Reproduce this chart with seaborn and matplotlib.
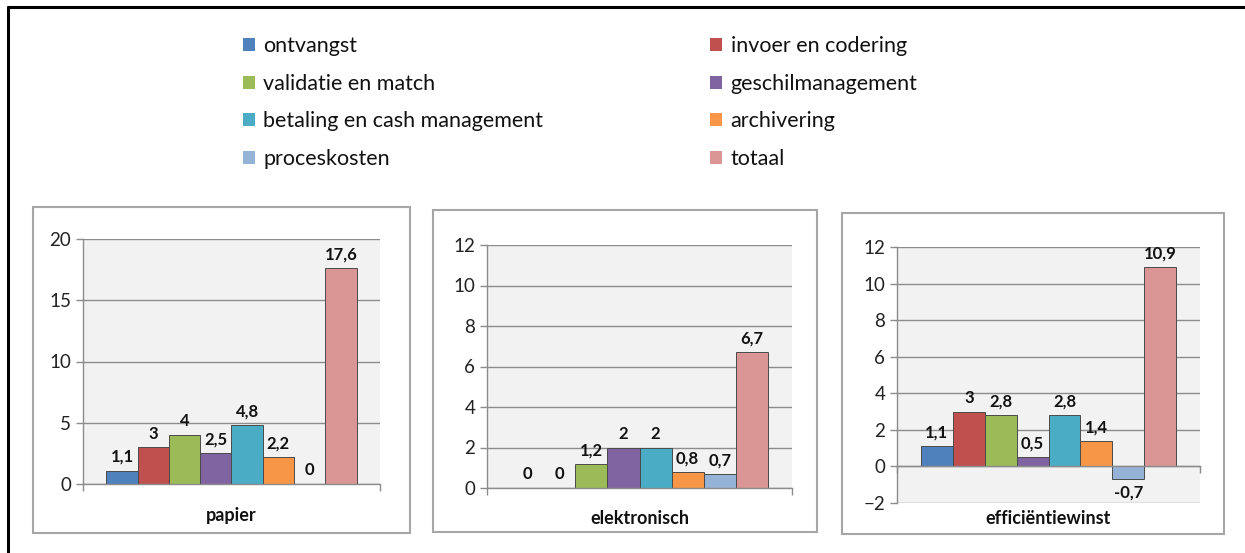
import seaborn as sns
import pandas as pd
import matplotlib.pyplot as plt
from matplotlib.patches import Rectangle, Patch
from matplotlib.lines import Line2D

# kostenposten en waarden per scenario
posten = ["ontvangst", "invoer en codering", "validatie en match", "geschilmanagement",
          "betaling en cash management", "archivering", "proceskosten", "totaal"]
kleuren = ["#4F81BD", "#C0504D", "#9BBB59", "#8064A2",
           "#4BACC6", "#F79646", "#95B3D7", "#D99694"]
scenarios = ["papier", "elektronisch", "efficiëntiewinst"]
papier = [1.1, 3, 4, 2.5, 4.8, 2.2, 0, 17.6]
elektronisch = [0, 0, 1.2, 2, 2, 0.8, 0.7, 6.7]
efficientiewinst = [1.1, 3, 2.8, 0.5, 2.8, 1.4, -0.7, 10.9]
y_limieten = [(0, 20), (0, 12), (-2, 12)]
y_stappen = [5, 2, 2]

sns.set_theme(style="white")
plt.rcParams['font.family'] = ["Lato", "DejaVu Sans"]

rows = []
for sc, waarden in zip(scenarios, [papier, elektronisch, efficientiewinst]):
    for p, w in zip(posten, waarden):
        rows.append({"scenario": sc, "post": p, "waarde": w})
df = pd.DataFrame(rows)

W, H = 1245, 553
fig = plt.figure(figsize=(W / 100, H / 100), dpi=100)

# pixel boxes: (links, boven, rechts, onder)
as_boxen = [(83, 239, 380, 484), (487, 245, 792, 488), (897, 247, 1200, 503)]
kaders = [(33, 207, 410, 533), (433, 210, 817, 532), (842, 213, 1224, 534)]
label_y = [515, 518, 519]

def fbox(l, t, r, b):
    return [l / W, 1 - b / H, (r - l) / W, (b - t) / H]

for i, sc in enumerate(scenarios):
    l, t, r, b = kaders[i]
    fig.add_artist(Rectangle((l / W, 1 - b / H), (r - l) / W, (b - t) / H,
                             transform=fig.transFigure, fill=False,
                             edgecolor="#A6A6A6", lw=1.5))
    ax = fig.add_axes(fbox(*as_boxen[i]))
    sub = df[df["scenario"] == sc]
    sns.barplot(data=sub, x="scenario", y="waarde", hue="post", hue_order=posten,
                palette=kleuren, ax=ax, legend=False, width=0.8,
                edgecolor="#4A4A4A", linewidth=0.7, saturation=1)
    ax.set_facecolor("#F2F2F2")
    lo, hi = y_limieten[i]
    ax.set_ylim(lo, hi)
    ax.set_yticks(range(lo, hi + 1, y_stappen[i]))
    ax.set_xlim(-0.475, 0.475)
    ax.yaxis.grid(True, color="#8C8C8C", lw=1)
    ax.set_axisbelow(True)
    for s in ["top", "right"]:
        ax.spines[s].set_visible(False)
    for s in ["left", "bottom"]:
        ax.spines[s].set_color("#8C8C8C")
        ax.spines[s].set_linewidth(1)
    ax.spines["bottom"].set_position(("data", 0))
    ax.set_xticks([-0.475, 0.475], labels=["", ""])
    ax.tick_params(axis="both", direction="out", length=5, color="#8C8C8C",
                   width=1, labelsize=13.5, labelcolor="#222222", left=True, bottom=True)
    ax.set_ylabel("")
    ax.set_xlabel(sc, fontsize=13, fontweight="bold", color="#111111")
    bl, bt, br, bb = as_boxen[i]
    ax.xaxis.set_label_coords(0.5, -(label_y[i] - bb) / (bb - bt))
    ax.xaxis.label.set_va("center")
    for c in ax.containers:
        ax.bar_label(c, labels=[f"{v:g}".replace(".", ",") for v in c.datavalues],
                     padding=4, fontsize=12, fontweight="bold", color="#111111")

# legenda: rij-gewijs zoals in het origineel
volgorde = [0, 2, 4, 6, 1, 3, 5, 7]
handles = [Patch(facecolor=kleuren[k], edgecolor="none") for k in volgorde]
labels = [posten[k] for k in volgorde]
fig.legend(handles, labels, ncol=2, loc="upper left",
           bbox_to_anchor=(243 / W, 1 - 36 / H), frameon=False,
           borderaxespad=0, borderpad=0,
           fontsize=15.5, handlelength=0.55, handleheight=0.55, handletextpad=0.4,
           labelspacing=0.82, columnspacing=7.75, labelcolor="#111111")

# buitenrand boven en links
fig.add_artist(Line2D([7.5 / W, 1], [1 - 6.5 / H, 1 - 6.5 / H],
                      transform=fig.transFigure, color="black", lw=2.2))
fig.add_artist(Line2D([7.5 / W, 7.5 / W], [0, 1 - 6.5 / H],
                      transform=fig.transFigure, color="black", lw=2.2))

fig.savefig("out.png", dpi=100)
